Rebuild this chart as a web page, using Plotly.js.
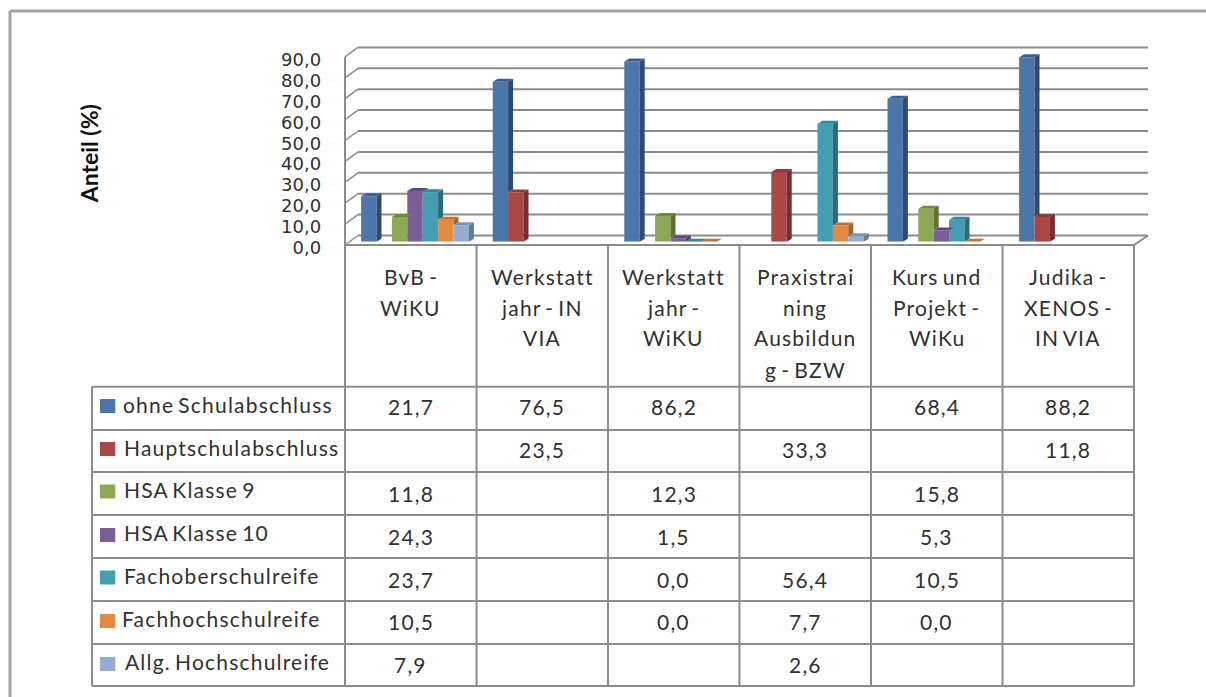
<!DOCTYPE html>
<html><head><meta charset="utf-8">
<script src="https://cdn.plot.ly/plotly-3.0.1.min.js"></script>
<style>html,body{margin:0;padding:0;background:#fff}#c{width:1206px;height:697px}
.annotation-text{letter-spacing:1.2px;word-spacing:-2.5px}</style>
</head><body><div id="c"></div>
<script>
const categories = ["BvB - WiKU","Werkstatt jahr - IN VIA","Werkstatt jahr - WiKU","Praxistraining Ausbildung - BZW","Kurs und Projekt - WiKu","Judika - XENOS - IN VIA"];
const headerLines = [["BvB -","WiKU"],["Werkstatt","jahr - IN","VIA"],["Werkstatt","jahr -","WiKU"],["Praxistrai","ning","Ausbildun","g - BZW"],["Kurs und","Projekt -","WiKu"],["Judika -","XENOS -","IN VIA"]];
const seriesNames = ["ohne Schulabschluss","Hauptschulabschluss","HSA Klasse 9","HSA Klasse 10","Fachoberschulreife","Fachhochschulreife","Allg. Hochschulreife"];
const ohneSchulabschluss = [21.7,76.5,86.2,null,68.4,88.2];
const hauptschulabschluss = [null,23.5,null,33.3,null,11.8];
const hsaKlasse9 = [11.8,null,12.3,null,15.8,null];
const hsaKlasse10 = [24.3,null,1.5,null,5.3,null];
const fachoberschulreife = [23.7,null,0.0,56.4,10.5,null];
const fachhochschulreife = [10.5,null,0.0,7.7,0.0,null];
const allgHochschulreife = [7.9,null,null,2.6,null,null];
const seriesValues = [ohneSchulabschluss,hauptschulabschluss,hsaKlasse9,hsaKlasse10,fachoberschulreife,fachhochschulreife,allgHochschulreife];
const frontColors = ["#4a76a9","#aa4745","#8ba852","#7a5e98","#459db4","#e08b3f","#94abd4"];
const sideColors  = ["#2e4c70","#733030","#5e7236","#503d66","#2d6a7a","#a3632a","#64799a"];
const topColors   = ["#3a6090","#8f3a38","#72893f","#5f4880","#36839a","#bf7432","#7d93b8"];
const yTicks = [0,10,20,30,40,50,60,70,80,90];
const yTickLabels = yTicks.map(t=>t.toFixed(1).replace(".",","));

const W=1206,H=697;
const catPx=131.6, pxPerUnit=2.09;
const plotL=349.2, plotR=plotL+catPx*6, plotB=241.7, plotT=plotB-90*pxPerUnit;
const slot=15.4/catPx, groupW=slot*7;
const dxBar=5/catPx, dyBar=3/pxPerUnit;
const gridCol="#8c8c8c", txt="#303030";
const px=x=>x/W, py=y=>1-y/H;

const tableFont="Lato", fs=21;
const shapes=[], annotations=[];
function line(x0,y0,x1,y1,w,c){shapes.push({type:"line",xref:"paper",yref:"paper",x0:px(x0),y0:py(y0),x1:px(x1),y1:py(y1),line:{color:c||gridCol,width:w||2},layer:"below"});}
function lineAbove(x0,y0,x1,y1,w,c){shapes.push({type:"line",xref:"paper",yref:"paper",x0:px(x0),y0:py(y0),x1:px(x1),y1:py(y1),line:{color:c||gridCol,width:w||2},layer:"above"});}
// outer frame
line(10,11,1206,11,3,"#a3a3a3"); line(10,11,10,697,3,"#a3a3a3");
// walls & gridlines
const backB=235.5, frontB=245, backL=358, backR=1148, frontL=345, frontR=1134;
yTicks.forEach(t=>{
  const d=t*pxPerUnit;
  line(backL,backB-d,backR,backB-d,2);
  line(frontL,frontB-d,backL,backB-d,1.5);
});
line(frontL,frontB-90*pxPerUnit,frontL,frontB,2);
line(frontR,frontB,backR,backB,2);
// table grid
const colX=[345,476.5,608,739.5,871,1002.5,1134];
const rowY=[386.7,430,472,515,558,601,644,686];
colX.forEach(x=>lineAbove(x,frontB,x,686,2));
lineAbove(345,frontB,1134,frontB,2);
rowY.forEach(y=>lineAbove(92,y,1134,y,2));
lineAbove(92,386.7,92,686,2);
// header text
const headY=[276,307,338,369];
headerLines.forEach((ls,c)=>ls.forEach((s,k)=>annotations.push({text:s,xref:"paper",yref:"paper",x:px((colX[c]+colX[c+1])/2),y:py(headY[k]),xanchor:"center",yanchor:"middle",showarrow:false,font:{family:tableFont,size:fs,color:txt}})));
// rows
const keyY=[406,449,491.5,535,577.5,621,664], labelY=[404,447,489,532,575,618,661], valY=[406,449,493,536,579,621,664], labelX=[121,122,122,122,122,120,123];
seriesNames.forEach((n,i)=>{
  shapes.push({type:"rect",xref:"paper",yref:"paper",x0:px(100),x1:px(115.3),y0:py(keyY[i]-7),y1:py(keyY[i]+7),fillcolor:frontColors[i],line:{width:0},layer:"above"});
  annotations.push({text:n,xref:"paper",yref:"paper",x:px(labelX[i]),y:py(labelY[i]),xanchor:"left",yanchor:"middle",showarrow:false,font:{family:tableFont,size:fs,color:txt}});
  seriesValues[i].forEach((v,c)=>{ if(v===null)return;
    annotations.push({text:v.toFixed(1).replace(".",","),xref:"paper",yref:"paper",x:px((colX[c]+colX[c+1])/2),y:py(valY[i]),xanchor:"center",yanchor:"middle",showarrow:false,font:{family:tableFont,size:fs,color:txt}});
  });
});
// 3D faces of the bars, derived from the values
seriesValues.forEach((vals,i)=>vals.forEach((v,c)=>{
  if(v===null)return;
  const L=c-groupW/2+i*slot, R=L+slot;
  const next=i<6?seriesValues[i+1][c]:null;
  const cut=next===null?0:next;
  if(cut<v) shapes.push({type:"path",xref:"x",yref:"y",layer:"above",
    path:`M${R},${cut} L${R+dxBar},${cut+dyBar} L${R+dxBar},${v+dyBar} L${R},${v} Z`,fillcolor:sideColors[i],line:{width:0}});
  shapes.push({type:"path",xref:"x",yref:"y",layer:"above",
    path:`M${L},${v} L${L+dxBar},${v+dyBar} L${R+dxBar},${v+dyBar} L${R},${v} Z`,fillcolor:topColors[i],line:{width:0}});
}));

const traces=seriesNames.map((n,i)=>({type:"bar",name:n,x:categories,y:seriesValues[i],marker:{color:frontColors[i],line:{width:0}},hoverinfo:"x+y+name"}));
const layout={
  width:W,height:H,showlegend:false,paper_bgcolor:"#fff",plot_bgcolor:"rgba(0,0,0,0)",
  margin:{l:0,r:0,t:0,b:0},barmode:"group",bargap:1-groupW,bargroupgap:0,
  xaxis:{domain:[px(plotL),px(plotR)],range:[-0.5,5.5],type:"category",categoryorder:"array",categoryarray:categories,showticklabels:false,ticks:"",showgrid:false,zeroline:false,showline:false,fixedrange:true},
  yaxis:{domain:[py(plotB),py(plotT)],range:[0,90],tickmode:"array",tickvals:yTicks,ticktext:yTickLabels,showgrid:false,zeroline:false,showline:false,ticks:"",
    ticklabelstandoff:27,ticklabelshift:6,tickfont:{family:"DejaVu Sans",size:18,color:txt},
    title:{text:"<b>Anteil (%)&nbsp;&nbsp;</b>",standoff:176,font:{family:"Lato",size:23,color:"#111"}},fixedrange:true},
  shapes,annotations
};
Plotly.newPlot("c",traces,layout,{displayModeBar:false,staticPlot:true});
</script></body></html>
